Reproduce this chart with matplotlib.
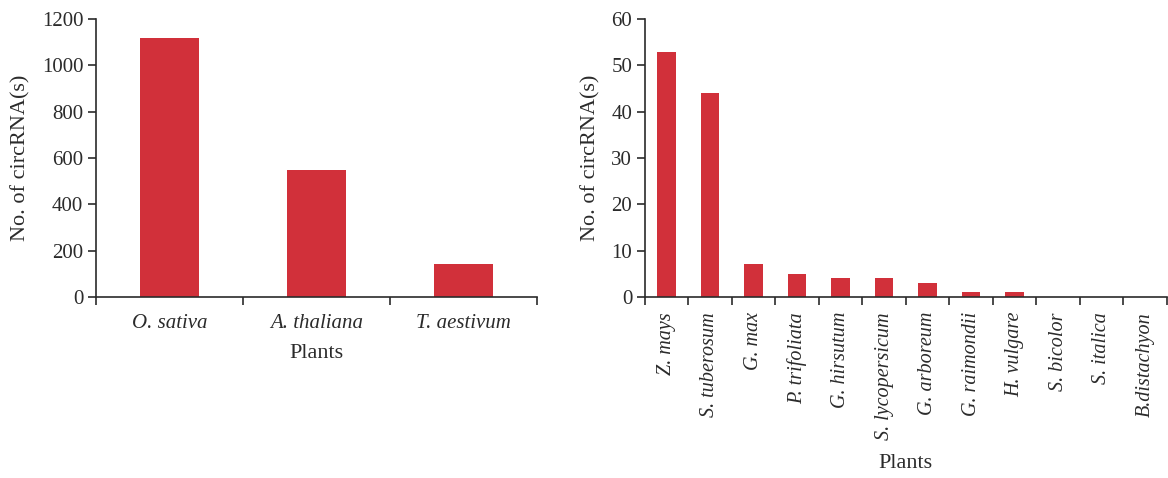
"""Bar charts of circRNA counts per plant species."""

import matplotlib
matplotlib.use('Agg')
import matplotlib.pyplot as plt
import numpy as np

# Data
major_plants = ["O. sativa", "A. thaliana", "T. aestivum"]
major_counts = [1120, 550, 143]

minor_plants = ["Z. mays", "S. tuberosum", "G. max", "P. trifoliata",
                "G. hirsutum", "S. lycopersicum", "G. arboreum", "G. raimondii",
                "H. vulgare", "S. bicolor", "S. italica", "B.distachyon"]
minor_counts = [53, 44, 7, 5, 4, 4, 3, 1, 1, 0, 0, 0]

plt.rcParams['font.family'] = ['Liberation Serif', 'DejaVu Serif']
BAR_COLOR = '#D1303A'
AXIS_COLOR = '#2b2b2b'

fig = plt.figure(figsize=(11.68, 4.78), dpi=100)
ax1 = fig.add_axes([0.082, 0.379, 0.378, 0.581])
ax2 = fig.add_axes([0.552, 0.379, 0.447, 0.581])


def style_axis(ax, labels, counts, ymax, ystep, width, rotate):
    x = np.arange(len(labels))
    ax.bar(x, counts, width=width, color=BAR_COLOR, zorder=2)
    ax.set_xlim(-0.5, len(labels) - 0.5)
    ax.set_ylim(0, ymax)
    ax.set_yticks(np.arange(0, ymax + 1, ystep))
    # category labels at centres, tick marks at boundaries
    ax.set_xticks(x)
    ax.set_xticks(np.arange(-0.5, len(labels), 1.0), minor=True)
    if rotate:
        ax.set_xticklabels(labels, rotation=90, style='italic', fontsize=14.5)
        ax.tick_params(axis='x', which='major', length=0, pad=11)
    else:
        ax.set_xticklabels(labels, style='italic', fontsize=15)
        ax.tick_params(axis='x', which='major', length=0, pad=12)
    ax.tick_params(axis='x', which='minor', length=6, width=1.2,
                   direction='out', color=AXIS_COLOR)
    ax.tick_params(axis='y', length=6, width=1.2, direction='out',
                   color=AXIS_COLOR, labelsize=15, pad=3)
    for side in ['top', 'right']:
        ax.spines[side].set_visible(False)
    for side in ['left', 'bottom']:
        ax.spines[side].set_color(AXIS_COLOR)
        ax.spines[side].set_linewidth(1.2)
    ax.set_ylabel("No. of circRNA(s)", fontsize=16, color=AXIS_COLOR, labelpad=8)
    ax.set_xlabel("Plants", fontsize=16, color=AXIS_COLOR)
    for lbl in ax.get_xticklabels() + ax.get_yticklabels():
        lbl.set_color(AXIS_COLOR)


style_axis(ax1, major_plants, major_counts, 1200, 200, 0.4, False)
style_axis(ax2, minor_plants, minor_counts, 60, 10, 0.42, True)
ax1.xaxis.labelpad = 8
ax2.xaxis.labelpad = 10

fig.savefig('out.png', dpi=100, facecolor='white')
plt.close(fig)
